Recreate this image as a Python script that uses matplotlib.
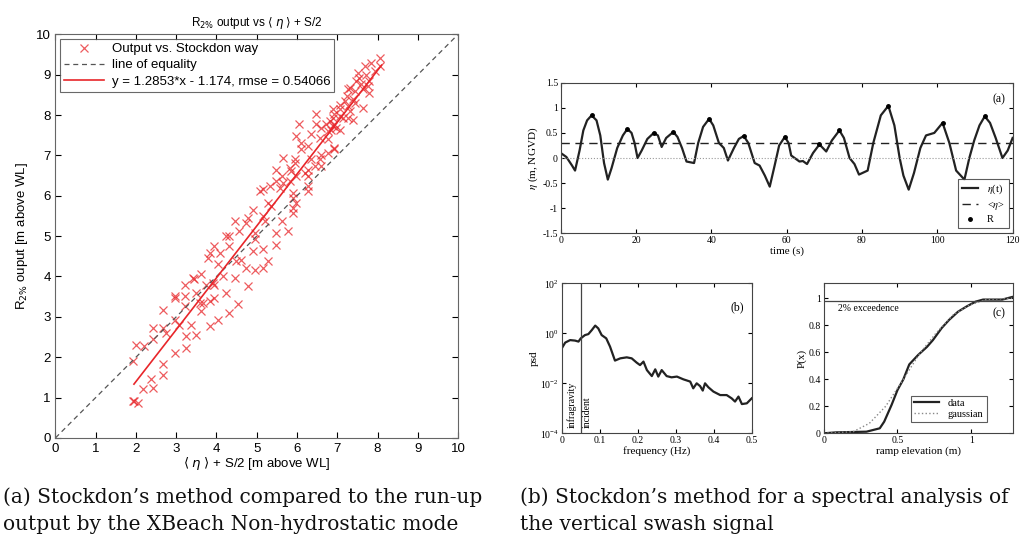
import numpy as np
import matplotlib
matplotlib.use("Agg")
import matplotlib.pyplot as plt

# --- (a) left: scatter of R2% output vs <eta> + S/2 ---
scatter_x = [8.05, 8.05, 7.85, 7.93, 7.68, 7.72, 7.55, 7.51, 7.47, 7.60, 7.80, 7.76, 7.80, 7.64,
             7.43, 7.31, 7.27, 7.23, 7.39, 7.18, 7.06, 7.27, 7.43, 7.31, 7.06, 6.89, 6.93, 7.06,
             7.14, 7.39, 7.27, 6.89, 6.81, 6.73, 6.93, 6.97, 7.06, 6.85, 6.77, 7.64, 6.89, 6.48,
             6.48, 6.06, 6.60, 6.35, 5.98, 6.11, 6.56, 6.77, 6.27, 6.11, 6.93, 6.93, 6.77, 6.60,
             5.65, 5.94, 5.94, 6.35, 6.56, 6.44, 6.60, 5.82, 5.48, 5.86, 6.27, 6.19, 5.62, 5.98,
             6.27, 5.48, 5.65, 5.82, 5.32, 5.57, 5.90, 6.27, 6.27, 5.07, 5.15, 5.90, 5.98, 5.28,
             5.90, 5.90, 5.36, 4.90, 5.15, 5.20, 5.62, 4.45, 4.78, 4.74,
             4.57, 4.95, 5.48, 5.77, 4.32, 4.24, 4.95, 3.95, 4.32, 5.48, 3.83, 4.08, 4.90, 5.15,
             3.79, 4.03, 4.62, 4.49, 5.28, 4.74, 4.95, 5.15, 4.78, 3.62, 4.16, 3.42, 3.45, 4.45,
             3.21, 3.91, 3.74, 3.95, 3.50, 4.24, 3.21, 2.96, 2.96, 3.95, 3.83, 3.66, 3.58, 3.21,
             2.67, 3.62, 4.53, 4.03, 4.32, 2.96, 3.08, 3.37, 3.83, 2.67, 2.42, 2.75, 3.25, 3.50,
             2.42, 3.25, 2.00, 2.21, 2.96, 1.92, 2.67, 2.67, 2.38, 2.42, 2.17, 1.96, 2.05, 1.92]
scatter_y = [9.42, 9.21, 9.30, 9.09, 9.21, 9.00, 8.93, 9.05, 8.84, 8.76, 8.84, 8.72, 8.55, 8.64,
             8.60, 8.68, 8.64, 8.47, 8.39, 8.35, 8.26, 8.22, 8.30, 8.10, 8.14, 8.14, 8.02, 7.98,
             7.93, 7.89, 7.93, 7.93, 7.85, 7.77, 7.77, 7.69, 7.64, 7.64, 7.60, 8.18, 7.73, 8.02,
             7.77, 7.77, 7.69, 7.52, 7.48, 7.31, 7.44, 7.40, 7.23, 7.15, 7.19, 7.15, 7.07, 7.02,
             6.94, 6.90, 6.82, 6.90, 6.90, 6.74, 6.74, 6.69, 6.65, 6.61, 6.65, 6.57, 6.49, 6.49,
             6.49, 6.36, 6.32, 6.36, 6.24, 6.20, 6.07, 6.24, 6.12, 6.12, 6.16, 5.95, 5.83, 5.83,
             5.70, 5.58, 5.74, 5.66, 5.49, 5.37, 5.37, 5.37, 5.45, 5.33,
             5.12, 5.08, 5.08, 5.12, 5.00, 5.00, 4.92, 4.75, 4.75, 4.79, 4.59, 4.59, 4.63, 4.67,
             4.46, 4.30, 4.42, 4.38, 4.38, 4.21, 4.17, 4.21, 3.76, 4.05, 4.01, 3.97, 3.93, 3.97,
             3.80, 3.84, 3.80, 3.80, 3.60, 3.60, 3.51, 3.47, 3.51, 3.47, 3.39, 3.35, 3.35, 3.26,
             3.18, 3.14, 3.31, 2.93, 3.10, 2.93, 2.81, 2.81, 2.77, 2.73, 2.73, 2.60, 2.52, 2.56,
             2.44, 2.23, 2.31, 2.27, 2.11, 1.90, 1.82, 1.57, 1.45, 1.24, 1.20, 0.91, 0.87, 0.91]
fit_slope = 1.2853
fit_intercept = -1.174
fit_rmse = 0.54066
fit_x_range = [1.95, 8.1]
equality_range = [0, 10]

# --- (b) right top: swash time series ---
time_s = [0, 1.5, 3, 3.8, 5, 6, 7, 8.2, 9.5, 10.5, 11.5, 12.5, 13.5, 15, 16.5, 17.7, 18.8, 19.6,
          20.4, 21.5, 23, 24.7, 25.8, 26.8, 28, 29.9, 31, 32.2, 33.4, 35.4, 36.5, 37.8, 39.4,
          40.5, 42, 43.3, 44.4, 46, 47.3, 48.6, 49.8, 51.5, 52.8, 54.2, 55.5, 56.8, 58, 59.5,
          60.5, 61.2, 63.4, 64.3, 65.4, 67, 68.7, 70.5, 72, 74, 75.2, 76.7, 78, 79.2, 81.5, 83,
          85, 87, 88.6, 90, 91, 92.4, 93.8, 95.5, 97, 99.2, 101.4, 103.2, 105, 107.2, 108.5,
          109.8, 111.2, 112.6, 114, 115.5, 117.3, 118.7, 120]
eta = [0.1, 0.02, -0.15, -0.25, 0.15, 0.55, 0.75, 0.85, 0.75, 0.45, -0.1, -0.43, -0.2, 0.2,
       0.45, 0.58, 0.5, 0.3, 0.0, 0.15, 0.38, 0.5, 0.45, 0.22, 0.4, 0.52, 0.42, 0.2, -0.07,
       -0.1, 0.3, 0.62, 0.78, 0.65, 0.3, 0.2, -0.05, 0.2, 0.38, 0.44, 0.3, -0.1, -0.15, -0.35,
       -0.57, -0.15, 0.25, 0.42, 0.3, 0.05, -0.07, -0.06, -0.12, 0.1, 0.27, 0.13, 0.35, 0.55,
       0.4, 0.0, -0.12, -0.33, -0.25, 0.3, 0.85, 1.04, 0.65, 0.0, -0.35, -0.63, -0.3, 0.2,
       0.45, 0.5, 0.7, 0.3, -0.25, -0.43, 0.0, 0.35, 0.65, 0.83, 0.7, 0.4, 0.0, 0.15, 0.4]
peak_t = [8.2, 17.7, 24.7, 29.9, 39.4, 48.6, 59.5, 68.7, 74, 87, 101.4, 112.6]
peak_eta = [0.85, 0.58, 0.5, 0.52, 0.78, 0.44, 0.42, 0.27, 0.55, 1.04, 0.7, 0.83]
eta_mean = 0.3

# --- (b) psd ---
freq = [0, 0.009, 0.022, 0.035, 0.044, 0.05, 0.061, 0.07, 0.079, 0.088, 0.096, 0.105, 0.117,
        0.127, 0.14, 0.154, 0.171, 0.184, 0.197, 0.206, 0.215, 0.224, 0.237, 0.246, 0.254,
        0.263, 0.276, 0.289, 0.303, 0.32, 0.338, 0.346, 0.355, 0.364, 0.371, 0.377, 0.386,
        0.399, 0.417, 0.434, 0.447, 0.456, 0.465, 0.474, 0.487, 0.5]
log_psd = [-0.6, -0.37, -0.27, -0.29, -0.33, -0.2, -0.07, -0.03, 0.13, 0.31, 0.2, -0.07, -0.2,
           -0.53, -1.09, -1.0, -0.96, -1.0, -1.17, -1.27, -1.13, -1.47, -1.71, -1.44, -1.73,
           -1.47, -1.71, -1.76, -1.73, -1.84, -1.93, -2.2, -2.0, -2.11, -2.29, -2.0, -2.16,
           -2.33, -2.47, -2.47, -2.6, -2.73, -2.53, -2.83, -2.8, -2.6]
f_split = 0.05

# --- (c) cdf ---
elev_data = [0, 0.086, 0.29, 0.38, 0.41, 0.46, 0.5, 0.54, 0.58, 0.64, 0.7, 0.74, 0.8, 0.85,
             0.91, 0.97, 1.03, 1.08, 1.21, 1.28]
cdf_data = [0, 0.007, 0.012, 0.037, 0.086, 0.21, 0.32, 0.4, 0.51, 0.58, 0.64, 0.69, 0.78, 0.84,
            0.9, 0.94, 0.975, 0.99, 0.99, 1.01]
elev_gauss = [0, 0.2, 0.31, 0.42, 0.54, 0.65, 0.76, 0.88, 0.99, 1.1, 1.28]
cdf_gauss = [0, 0.012, 0.074, 0.2, 0.4, 0.59, 0.74, 0.88, 0.95, 0.99, 1.0]
exceed_level = 0.98

fig = plt.figure(figsize=(10.27, 5.46), dpi=100)

# left panel
sans = "Liberation Sans"
ax = fig.add_axes([0.054, 0.198, 0.392, 0.739])
ax.plot(scatter_x, scatter_y, "x", color="#e8262a", ms=5.5, mew=0.9, alpha=0.75,
        label="Output vs. Stockdon way")
ax.plot(equality_range, equality_range, "--", color="#555555", lw=0.9, dashes=(4, 3),
        label="line of equality")
fx = np.array(fit_x_range)
ax.plot(fx, fit_slope * fx + fit_intercept, "-", color="#e8262a", lw=1.2,
        label=f"y = {fit_slope}*x - {-fit_intercept}, rmse = {fit_rmse}")
ax.set_xlim(0, 10)
ax.set_ylim(0, 10)
ax.set_xticks(range(11))
ax.set_yticks(range(11))
ax.tick_params(labelsize=9.5, direction="in", length=4, top=True, right=True)
for lab in ax.get_xticklabels() + ax.get_yticklabels():
    lab.set_family(sans)
for s in ax.spines.values():
    s.set_color("#666666")
ax.set_title(r"R$_{2\%}$ output vs $\langle$ $\eta$ $\rangle$ + S/2", fontsize=8.5,
             family=sans, pad=6)
ax.set_xlabel(r"$\langle$ $\eta$ $\rangle$ + S/2 [m above WL]", fontsize=9.5, family=sans,
              labelpad=0)
ax.set_ylabel(r"R$_{2\%}$ ouput [m above WL]", fontsize=9.5, family=sans, labelpad=4)
leg = ax.legend(loc="upper left", prop={"family": sans, "size": 9.5},
                fancybox=False, edgecolor="#444444", borderaxespad=0.35, handlelength=3.0,
                labelspacing=0.3, borderpad=0.3, handletextpad=0.6)
leg.get_frame().set_linewidth(0.8)

# right panels
serif = "Liberation Serif"
plt.rcParams["mathtext.fontset"] = "stix"

axa = fig.add_axes([0.546, 0.5727, 0.44, 0.2758])
axa.plot(time_s, eta, "-", color="#222222", lw=1.6, label=r"$\eta$(t)")
axa.axhline(eta_mean, color="#222222", lw=1.0, ls=(0, (6, 4)), label=r"<$\eta$>")
axa.axhline(0, color="#999999", lw=0.8, ls=":")
axa.plot(peak_t, peak_eta, ".", color="black", ms=5, label="R")
axa.set_xlim(0, 120)
axa.set_ylim(-1.5, 1.5)
axa.set_xticks(range(0, 121, 20))
axa.set_yticks([-1.5, -1, -0.5, 0, 0.5, 1, 1.5])
axa.set_yticklabels(["-1.5", "-1", "-0.5", "0", "0.5", "1", "1.5"])
axa.set_xlabel("time (s)", fontsize=8, family=serif, labelpad=1)
axa.set_ylabel(r"$\eta$ (m, NGVD)", fontsize=8, family=serif, labelpad=2)
axa.text(0.985, 0.93, "(a)", transform=axa.transAxes, ha="right", va="top", fontsize=8.5,
         family=serif)
la = axa.legend(loc="lower right", bbox_to_anchor=(0.991, 0.035),
                prop={"family": serif, "size": 7.5}, fancybox=False,
                edgecolor="#333333", borderaxespad=0.0, handlelength=1.6, labelspacing=0.3,
                borderpad=0.35)
la.get_frame().set_linewidth(0.8)

axb = fig.add_axes([0.547, 0.2064, 0.185, 0.2746])
axb.semilogy(freq, 10.0 ** np.array(log_psd), "-", color="#222222", lw=1.6)
axb.axvline(f_split, color="#444444", lw=0.9)
axb.set_xlim(0, 0.5)
axb.set_ylim(1e-4, 1e2)
axb.set_yticks([1e-4, 1e-2, 1e0, 1e2])
axb.yaxis.set_minor_locator(matplotlib.ticker.NullLocator())
axb.set_xticks([0, 0.1, 0.2, 0.3, 0.4, 0.5])
axb.set_xticklabels(["0", "0.1", "0.2", "0.3", "0.4", "0.5"])
axb.set_xlabel("frequency (Hz)", fontsize=8, family=serif, labelpad=1)
axb.set_ylabel("psd", fontsize=8, family=serif, labelpad=1)
axb.text(0.96, 0.88, "(b)", transform=axb.transAxes, ha="right", va="top", fontsize=8.5,
         family=serif)
axb.text(0.027, 1.6e-4, "infragravity", rotation=90, ha="center", va="bottom", fontsize=7,
         family=serif)
axb.text(0.068, 1.6e-4, "incident", rotation=90, ha="center", va="bottom", fontsize=7,
         family=serif)

axc = fig.add_axes([0.802, 0.2064, 0.184, 0.2746])
axc.plot(elev_data, cdf_data, "-", color="#222222", lw=1.6, label="data")
axc.plot(elev_gauss, cdf_gauss, ":", color="#888888", lw=1.0, label="gaussian")
axc.axhline(exceed_level, color="#444444", lw=0.9)
axc.set_xlim(0, 1.28)
axc.set_ylim(0, 1.11)
axc.set_xticks([0, 0.5, 1])
axc.set_xticklabels(["0", "0.5", "1"])
axc.set_yticks([0, 0.2, 0.4, 0.6, 0.8, 1])
axc.set_yticklabels(["0", "0.2", "0.4", "0.6", "0.8", "1"])
axc.set_xlabel("ramp elevation (m)", fontsize=8, family=serif, labelpad=1)
axc.set_ylabel("P(x)", fontsize=8, family=serif, labelpad=1)
axc.text(0.1, exceed_level - 0.02, "2% exceedence", ha="left", va="top", fontsize=7,
         family=serif)
axc.text(0.96, 0.84, "(c)", transform=axc.transAxes, ha="right", va="top", fontsize=8.5,
         family=serif)
lc = axc.legend(loc="lower right", bbox_to_anchor=(0.862, 0.075),
                prop={"family": serif, "size": 7.5}, fancybox=False,
                edgecolor="#333333", borderaxespad=0.0, handlelength=2.4, labelspacing=0.15,
                borderpad=0.3)
lc.get_frame().set_linewidth(0.8)

for a in (axa, axb, axc):
    a.tick_params(labelsize=7, direction="in", length=3, top=True, right=True, pad=2)
    for lab in a.get_xticklabels() + a.get_yticklabels():
        lab.set_family(serif)
    for s in a.spines.values():
        s.set_color("#444444")

# captions
cap = dict(fontsize=14.5, family="DejaVu Serif", color="#111111", va="baseline")
fig.text(0.003, 1 - 503 / 546, "(a) Stockdon\u2019s method compared to the run-up", **cap)
fig.text(0.003, 1 - 530 / 546, "output by the XBeach Non-hydrostatic mode", **cap)
fig.text(0.506, 1 - 503 / 546, "(b) Stockdon\u2019s method for a spectral analysis of", **cap)
fig.text(0.506, 1 - 530 / 546, "the vertical swash signal", **cap)

fig.savefig("out.png", dpi=100)
